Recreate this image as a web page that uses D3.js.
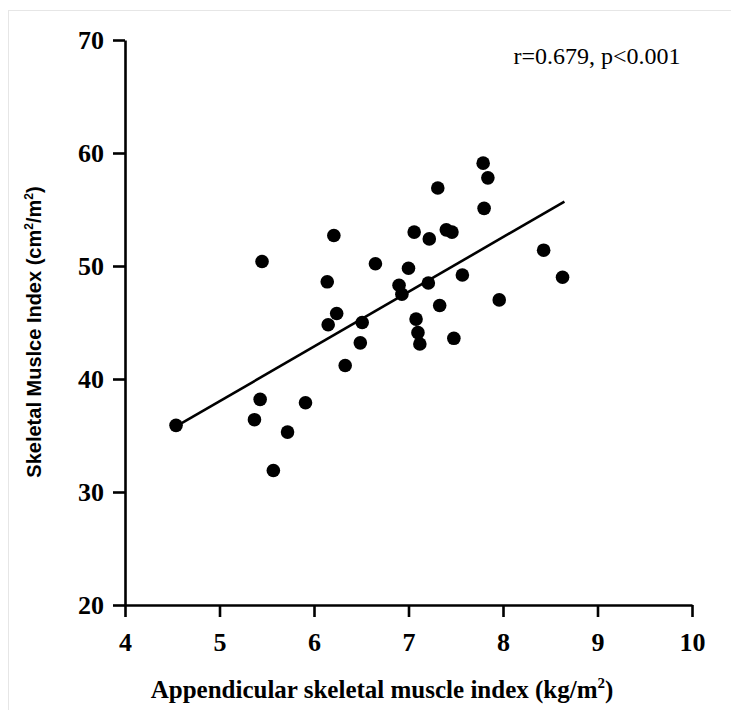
<!DOCTYPE html>
<html>
<head>
<meta charset="utf-8">
<script src="https://cdn.jsdelivr.net/npm/d3@7"></script>
<style>
  html, body { margin: 0; padding: 0; background: #fff; }
  svg { display: block; }
</style>
</head>
<body>
<svg id="chart" width="731" height="710"></svg>
<script>
// ---- data ----
const asmiValues = [4.54, 5.37, 5.43, 5.45, 5.57, 5.72, 5.91, 6.14, 6.15, 6.21, 6.24, 6.33,
  6.49, 6.51, 6.65, 6.90, 6.93, 7.00, 7.06, 7.08, 7.10, 7.12, 7.21, 7.22,
  7.31, 7.33, 7.40, 7.46, 7.48, 7.57, 7.79, 7.80, 7.84, 7.96, 8.43, 8.63];
const smiValues = [35.9, 36.4, 38.2, 50.4, 31.9, 35.3, 37.9, 48.6, 44.8, 52.7, 45.8, 41.2,
  43.2, 45.0, 50.2, 48.3, 47.5, 49.8, 53.0, 45.3, 44.1, 43.1, 48.5, 52.4,
  56.9, 46.5, 53.2, 53.0, 43.6, 49.2, 59.1, 55.1, 57.8, 47.0, 51.4, 49.0];
const fitX = [4.54, 8.65];
const fitY = [35.8, 55.7];
const xTicks = [4, 5, 6, 7, 8, 9, 10];
const yTicks = [20, 30, 40, 50, 60, 70];
const annotation = "r=0.679, p<0.001";

const svg = d3.select("#chart");

// frame
svg.append("rect").attr("x", 8.5).attr("y", 10.5).attr("width", 740).attr("height", 720)
  .attr("fill", "none").attr("stroke", "#e6e6e6").attr("stroke-width", 1);

const x = d3.scaleLinear().domain([4, 10]).range([125, 692]);
const y = d3.scaleLinear().domain([20, 70]).range([605, 40]);

const serif = "'Liberation Serif','Times New Roman',serif";
const sans = "'Liberation Sans',Arial,sans-serif";

// y axis
const yAxis = svg.append("g").attr("transform", `translate(${x(4)},0)`)
  .call(d3.axisLeft(y).tickValues(yTicks).tickFormat(d3.format("d"))
    .tickSize(12).tickPadding(9).tickSizeOuter(0));
// x axis
const xAxis = svg.append("g").attr("transform", `translate(0,${y(20)})`)
  .call(d3.axisBottom(x).tickValues(xTicks).tickFormat(d3.format("d"))
    .tickSize(12).tickPadding(16).tickSizeOuter(0));

[yAxis, xAxis].forEach(g => {
  g.select(".domain").attr("stroke", "#000").attr("stroke-width", 2.6);
  g.selectAll(".tick line").attr("stroke", "#000").attr("stroke-width", 2.6);
  g.selectAll(".tick text").attr("fill", "#000")
    .style("font-family", serif).style("font-weight", "bold").style("font-size", "26px");
});

// regression line
svg.append("line")
  .attr("x1", x(fitX[0])).attr("y1", y(fitY[0]))
  .attr("x2", x(fitX[1])).attr("y2", y(fitY[1]))
  .attr("stroke", "#000").attr("stroke-width", 2.6);

// points
svg.append("g").selectAll("circle")
  .data(asmiValues.map((v, i) => [v, smiValues[i]]))
  .join("circle")
  .attr("cx", d => x(d[0])).attr("cy", d => y(d[1])).attr("r", 6.8)
  .attr("fill", "#000");

// annotation
svg.append("text").attr("x", 597).attr("y", 64).attr("text-anchor", "middle")
  .style("font-family", serif).style("font-size", "24px").attr("fill", "#000")
  .text(annotation);

// x title
const xt = svg.append("text").attr("x", 382).attr("y", 698).attr("text-anchor", "middle")
  .style("font-family", serif).style("font-weight", "bold").style("font-size", "25px")
  .attr("fill", "#000");
xt.append("tspan").text("Appendicular skeletal muscle index (kg/m");
xt.append("tspan").attr("dy", -10).style("font-size", "15px").text("2");
xt.append("tspan").attr("dy", 10).text(")");

// y title
const yt = svg.append("text").attr("transform", "translate(41,332) rotate(-90)")
  .attr("text-anchor", "middle")
  .style("font-family", sans).style("font-weight", "bold").style("font-size", "20px")
  .attr("fill", "#000");
yt.append("tspan").text("Skeletal Muslce Index (cm");
yt.append("tspan").attr("dy", -8).style("font-size", "12px").text("2");
yt.append("tspan").attr("dy", 8).text("/m");
yt.append("tspan").attr("dy", -8).style("font-size", "12px").text("2");
yt.append("tspan").attr("dy", 8).text(")");
</script>
</body>
</html>
